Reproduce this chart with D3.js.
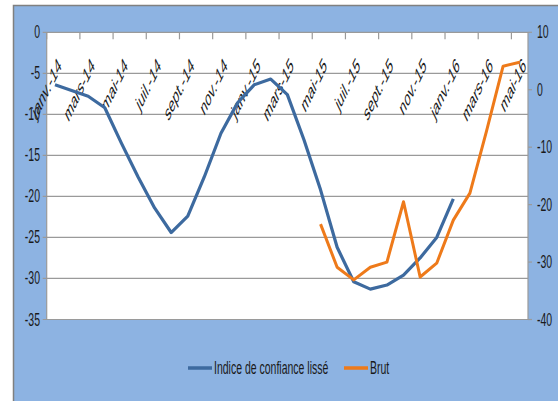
<!DOCTYPE html>
<html><head><meta charset="utf-8">
<script src="https://cdn.jsdelivr.net/npm/d3@7"></script>
<style>
html,body{margin:0;padding:0;background:#fff;}
svg{display:block;}
text{font-family:"Liberation Sans",Arial,sans-serif;fill:#1a1a1a;}
</style></head>
<body><svg id="c" width="558" height="401"></svg>
<script>
const months = ["janv.-14","févr.-14","mars-14","avr.-14","mai-14","juin-14","juil.-14","août-14","sept.-14","oct.-14","nov.-14","déc.-14",
"janv.-15","févr.-15","mars-15","avr.-15","mai-15","juin-15","juil.-15","août-15","sept.-15","oct.-15","nov.-15","déc.-15",
"janv.-16","févr.-16","mars-16","avr.-16","mai-16"];
const indiceLisse = [-6.4,-7.1,-7.8,-9.2,-13.5,-17.6,-21.4,-24.4,-22.4,-17.6,-12.3,-8.6,-6.4,-5.7,-7.6,-13.1,-19.2,-26.2,-30.4,-31.3,-30.8,-29.6,-27.5,-25.0,-20.3,null,null,null,null];
const brut = [null,null,null,null,null,null,null,null,null,null,null,null,null,null,null,null,-23.4,-30.9,-33.1,-30.9,-30.0,-19.5,-32.6,-30.2,-22.7,-18.0,-7.2,4.1,4.8];
const leftTicks = [0,-5,-10,-15,-20,-25,-30,-35];
const rightTicks = [10,0,-10,-20,-30,-40];
const seriesNames = ["Indice de confiance lissé","Brut"];

const svg = d3.select("#c");
const L=46.7, R=528, T=32.3, B=319.5;
const SX=0.6, FS=17.5;

// chart area
svg.append("rect").attr("x",13.5).attr("y",5.5).attr("width",560).attr("height",410)
  .attr("fill","#8DB3E2").attr("stroke","#808080").attr("stroke-width",1.5);

const x = d3.scaleBand().domain(months).range([L,R]).padding(0);
const yL = d3.scaleLinear().domain([-35,0]).range([B,T]);
const yR = d3.scaleLinear().domain([-40,10]).range([B,T]);

svg.append("rect").attr("x",L).attr("y",T).attr("width",R-L).attr("height",B-T).attr("fill","#fff");

// gridlines
svg.append("g").selectAll("line").data(leftTicks).join("line")
  .attr("x1",L-4).attr("x2",R).attr("y1",d=>yL(d)).attr("y2",d=>yL(d))
  .attr("stroke","#9a9a9a").attr("stroke-width",1.2);
// right ticks
svg.append("g").selectAll("line").data(rightTicks).join("line")
  .attr("x1",R).attr("x2",R+4).attr("y1",d=>yR(d)).attr("y2",d=>yR(d))
  .attr("stroke","#9a9a9a").attr("stroke-width",1.2);
// plot frame sides
svg.append("line").attr("x1",L).attr("x2",L).attr("y1",T).attr("y2",B).attr("stroke","#9a9a9a").attr("stroke-width",1.2);
svg.append("line").attr("x1",R).attr("x2",R).attr("y1",T).attr("y2",B).attr("stroke","#9a9a9a").attr("stroke-width",1.2);
// category ticks every 2 months
const tickIdx = months.map((m,i)=>i).filter(i=>i%2===0);
svg.append("g").selectAll("line").data(tickIdx).join("line")
  .attr("x1",i=>x(months[i])).attr("x2",i=>x(months[i]))
  .attr("y1",T).attr("y2",T+7).attr("stroke","#9a9a9a").attr("stroke-width",1.2);

// left labels
svg.append("g").selectAll("text").data(leftTicks).join("text")
  .attr("transform",d=>`translate(${40},${yL(d)+6}) scale(${SX},1)`)
  .attr("text-anchor","end").style("font-size",FS+"px").text(d=>d);
// right labels
svg.append("g").selectAll("text").data(rightTicks).join("text")
  .attr("transform",d=>`translate(${537},${yR(d)+6}) scale(${SX},1)`)
  .attr("text-anchor","start").style("font-size",FS+"px").text(d=>d);
// x labels
svg.append("g").selectAll("text").data(tickIdx).join("text")
  .attr("transform",i=>`translate(${x(months[i])+x.bandwidth()/2+7},${67}) scale(0.48,1) rotate(-45)`)
  .attr("text-anchor","end").style("font-size","21.5px").text(i=>months[i]);

const cx = i=>x(months[i])+x.bandwidth()/2;
const lineL = d3.line().defined(d=>d!=null).x((d,i)=>cx(i)).y(d=>yL(d));
const lineR = d3.line().defined(d=>d!=null).x((d,i)=>cx(i)).y(d=>yR(d));
svg.append("path").attr("d",lineL(indiceLisse)).attr("fill","none").attr("stroke","#3D6A9F").attr("stroke-width",3.2).attr("stroke-linejoin","round");
svg.append("path").attr("d",lineR(brut)).attr("fill","none").attr("stroke","#EE7A1A").attr("stroke-width",3).attr("stroke-linejoin","round");

// legend
const lg = svg.append("g");
const legendItems = [{name:seriesNames[0],color:"#3D6A9F",x:188},{name:seriesNames[1],color:"#EE7A1A",x:344}];
legendItems.forEach(it=>{
  lg.append("line").attr("x1",it.x).attr("x2",it.x+24).attr("y1",368).attr("y2",368).attr("stroke",it.color).attr("stroke-width",3.5);
  lg.append("text").attr("transform",`translate(${it.x+26},${374}) scale(${SX},1)`).style("font-size",FS+"px").text(it.name);
});
</script></body></html>
